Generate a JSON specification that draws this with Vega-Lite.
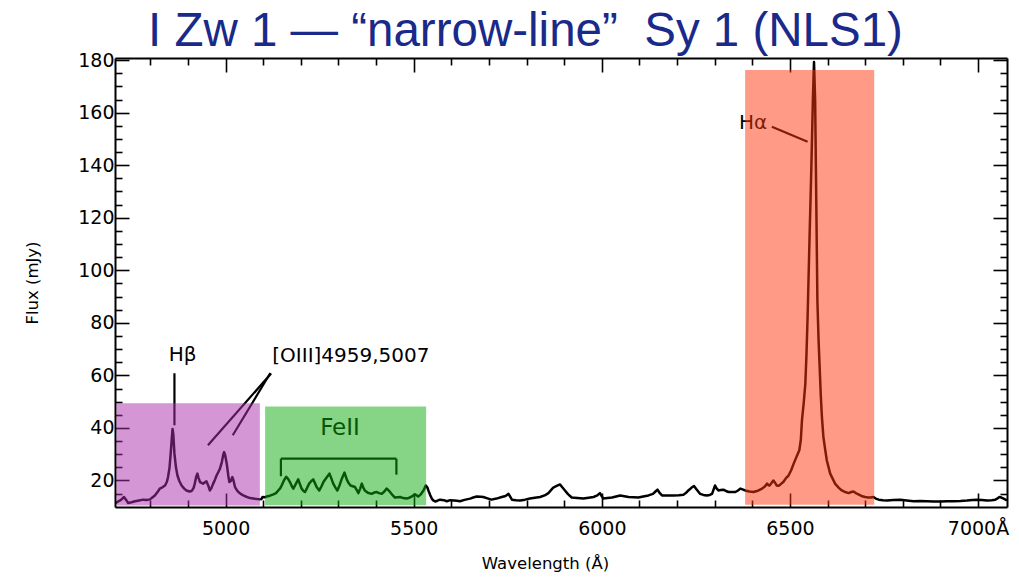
{
  "$schema": "https://vega.github.io/schema/vega-lite/v6.json",
  "autosize": {"type": "none"},
  "width": 892,
  "height": 449,
  "padding": {"left": 115, "top": 58, "right": 12, "bottom": 70},
  "background": "white",
  "title": {
    "text": "I Zw 1 — “narrow-line”\u00a0 Sy 1 (NLS1)",
    "anchor": "start",
    "frame": "group",
    "dx": 33,
    "offset": -42,
    "baseline": "alphabetic",
    "font": "Liberation Sans",
    "fontSize": 47.5,
    "fontWeight": "normal",
    "color": "#1a2a8a"
  },
  "config": {
    "view": {"stroke": null},
    "axis": {
      "grid": false,
      "domainColor": "black",
      "domainWidth": 2,
      "tickColor": "black",
      "tickWidth": 1.6,
      "labelFont": "DejaVu Sans",
      "labelFontSize": 19,
      "labelColor": "black",
      "titleFont": "DejaVu Sans",
      "titleFontSize": 16.5,
      "titleFontWeight": "normal",
      "titleColor": "black"
    }
  },
  "datasets": {
    "spectrum": [
      {"wl": 4706, "flux": 11.2}, {"wl": 4712, "flux": 11.8}, {"wl": 4722, "flux": 12.6}, {"wl": 4730, "flux": 13.7},
      {"wl": 4736, "flux": 12.5}, {"wl": 4741, "flux": 11.4}, {"wl": 4750, "flux": 11.7}, {"wl": 4759, "flux": 12.1},
      {"wl": 4770, "flux": 12.4}, {"wl": 4781, "flux": 12.7}, {"wl": 4790, "flux": 12.6}, {"wl": 4799, "flux": 12.8},
      {"wl": 4806, "flux": 13.6}, {"wl": 4812, "flux": 14.3}, {"wl": 4820, "flux": 15.8}, {"wl": 4825, "flux": 16.9},
      {"wl": 4832, "flux": 17.4}, {"wl": 4839, "flux": 18.1}, {"wl": 4844, "flux": 19.5}, {"wl": 4847, "flux": 21.3},
      {"wl": 4851, "flux": 25.0}, {"wl": 4854, "flux": 30.2}, {"wl": 4857, "flux": 36.0}, {"wl": 4859, "flux": 39.6},
      {"wl": 4861, "flux": 37.5}, {"wl": 4864, "flux": 30.2}, {"wl": 4868, "flux": 25.0}, {"wl": 4872, "flux": 21.9},
      {"wl": 4877, "flux": 19.8}, {"wl": 4883, "flux": 18.1}, {"wl": 4890, "flux": 16.9}, {"wl": 4896, "flux": 16.2},
      {"wl": 4904, "flux": 15.8}, {"wl": 4910, "flux": 16.0}, {"wl": 4915, "flux": 17.2}, {"wl": 4918, "flux": 18.8},
      {"wl": 4922, "flux": 21.5}, {"wl": 4925, "flux": 22.6}, {"wl": 4928, "flux": 21.0}, {"wl": 4932, "flux": 19.4},
      {"wl": 4940, "flux": 18.8}, {"wl": 4949, "flux": 19.7}, {"wl": 4954, "flux": 18.0}, {"wl": 4958, "flux": 16.2},
      {"wl": 4962, "flux": 17.0}, {"wl": 4967, "flux": 18.8}, {"wl": 4972, "flux": 20.4}, {"wl": 4976, "flux": 21.9},
      {"wl": 4981, "flux": 23.3}, {"wl": 4985, "flux": 24.5}, {"wl": 4990, "flux": 27.0}, {"wl": 4994, "flux": 30.0},
      {"wl": 4996, "flux": 30.8}, {"wl": 4999, "flux": 29.5}, {"wl": 5003, "flux": 26.4}, {"wl": 5007, "flux": 22.0},
      {"wl": 5010, "flux": 19.4}, {"wl": 5014, "flux": 19.8}, {"wl": 5018, "flux": 21.3}, {"wl": 5021, "flux": 20.0},
      {"wl": 5025, "flux": 17.5}, {"wl": 5030, "flux": 16.3}, {"wl": 5034, "flux": 15.6}, {"wl": 5040, "flux": 14.9},
      {"wl": 5047, "flux": 14.3}, {"wl": 5055, "flux": 13.8}, {"wl": 5065, "flux": 13.3}, {"wl": 5078, "flux": 13.0},
      {"wl": 5091, "flux": 12.8}, {"wl": 5095, "flux": 12.9}, {"wl": 5098, "flux": 13.7}, {"wl": 5104, "flux": 13.6},
      {"wl": 5109, "flux": 13.9}, {"wl": 5118, "flux": 14.2}, {"wl": 5127, "flux": 14.7}, {"wl": 5134, "flux": 15.2},
      {"wl": 5140, "flux": 16.2}, {"wl": 5145, "flux": 17.0}, {"wl": 5149, "flux": 18.1}, {"wl": 5155, "flux": 20.0},
      {"wl": 5161, "flux": 21.4}, {"wl": 5166, "flux": 20.6}, {"wl": 5171, "flux": 19.4}, {"wl": 5176, "flux": 17.8},
      {"wl": 5180, "flux": 16.9}, {"wl": 5186, "flux": 18.5}, {"wl": 5193, "flux": 20.4}, {"wl": 5198, "flux": 18.4},
      {"wl": 5202, "flux": 16.9}, {"wl": 5207, "flux": 16.0}, {"wl": 5211, "flux": 15.6}, {"wl": 5216, "flux": 17.0},
      {"wl": 5222, "flux": 18.8}, {"wl": 5228, "flux": 19.8}, {"wl": 5233, "flux": 20.4}, {"wl": 5238, "flux": 18.8},
      {"wl": 5242, "flux": 17.5}, {"wl": 5249, "flux": 16.2}, {"wl": 5255, "flux": 17.8}, {"wl": 5260, "flux": 19.4},
      {"wl": 5268, "flux": 21.0}, {"wl": 5276, "flux": 22.6}, {"wl": 5281, "flux": 20.8}, {"wl": 5286, "flux": 18.8},
      {"wl": 5292, "flux": 17.3}, {"wl": 5297, "flux": 16.2}, {"wl": 5303, "flux": 18.2}, {"wl": 5309, "flux": 20.7},
      {"wl": 5316, "flux": 23.0}, {"wl": 5322, "flux": 20.4}, {"wl": 5327, "flux": 19.0}, {"wl": 5332, "flux": 18.1},
      {"wl": 5338, "flux": 17.8}, {"wl": 5344, "flux": 17.5}, {"wl": 5349, "flux": 16.2}, {"wl": 5353, "flux": 15.2},
      {"wl": 5358, "flux": 17.0}, {"wl": 5362, "flux": 18.8}, {"wl": 5366, "flux": 17.3}, {"wl": 5370, "flux": 16.2},
      {"wl": 5378, "flux": 15.3}, {"wl": 5388, "flux": 14.9}, {"wl": 5395, "flux": 15.4}, {"wl": 5402, "flux": 15.6},
      {"wl": 5408, "flux": 15.2}, {"wl": 5415, "flux": 14.9}, {"wl": 5422, "flux": 15.8}, {"wl": 5428, "flux": 16.9},
      {"wl": 5433, "flux": 16.3}, {"wl": 5437, "flux": 15.6}, {"wl": 5444, "flux": 14.4}, {"wl": 5450, "flux": 13.5},
      {"wl": 5457, "flux": 13.6}, {"wl": 5464, "flux": 13.7}, {"wl": 5472, "flux": 13.3}, {"wl": 5481, "flux": 13.1},
      {"wl": 5488, "flux": 13.4}, {"wl": 5495, "flux": 13.9}, {"wl": 5503, "flux": 14.7}, {"wl": 5508, "flux": 14.3},
      {"wl": 5512, "flux": 13.9}, {"wl": 5518, "flux": 14.6}, {"wl": 5526, "flux": 16.2}, {"wl": 5532, "flux": 18.1},
      {"wl": 5536, "flux": 17.4}, {"wl": 5539, "flux": 16.2}, {"wl": 5544, "flux": 14.4}, {"wl": 5548, "flux": 13.1},
      {"wl": 5552, "flux": 12.4}, {"wl": 5557, "flux": 12.0}, {"wl": 5563, "flux": 12.3}, {"wl": 5570, "flux": 12.7},
      {"wl": 5580, "flux": 12.5}, {"wl": 5588, "flux": 12.1}, {"wl": 5597, "flux": 12.5}, {"wl": 5607, "flux": 12.4},
      {"wl": 5615, "flux": 12.3}, {"wl": 5623, "flux": 12.1}, {"wl": 5635, "flux": 12.6}, {"wl": 5650, "flux": 13.1},
      {"wl": 5660, "flux": 13.6}, {"wl": 5668, "flux": 13.9}, {"wl": 5678, "flux": 13.8}, {"wl": 5685, "flux": 13.7},
      {"wl": 5696, "flux": 13.2}, {"wl": 5707, "flux": 12.7}, {"wl": 5720, "flux": 13.1}, {"wl": 5734, "flux": 13.7},
      {"wl": 5744, "flux": 14.1}, {"wl": 5752, "flux": 14.9}, {"wl": 5756, "flux": 13.9}, {"wl": 5761, "flux": 12.7},
      {"wl": 5772, "flux": 12.5}, {"wl": 5783, "flux": 12.4}, {"wl": 5796, "flux": 12.7}, {"wl": 5809, "flux": 13.1},
      {"wl": 5822, "flux": 13.4}, {"wl": 5836, "flux": 13.7}, {"wl": 5848, "flux": 14.3}, {"wl": 5858, "flux": 15.2},
      {"wl": 5865, "flux": 16.3}, {"wl": 5871, "flux": 17.3}, {"wl": 5880, "flux": 17.9}, {"wl": 5889, "flux": 18.5},
      {"wl": 5895, "flux": 17.4}, {"wl": 5902, "flux": 16.2}, {"wl": 5910, "flux": 14.8}, {"wl": 5920, "flux": 13.5},
      {"wl": 5935, "flux": 13.3}, {"wl": 5951, "flux": 13.1}, {"wl": 5965, "flux": 13.4}, {"wl": 5978, "flux": 13.7},
      {"wl": 5988, "flux": 14.3}, {"wl": 5995, "flux": 15.2}, {"wl": 5999, "flux": 14.2}, {"wl": 6004, "flux": 13.1},
      {"wl": 6015, "flux": 13.3}, {"wl": 6027, "flux": 13.5}, {"wl": 6038, "flux": 13.9}, {"wl": 6049, "flux": 14.3},
      {"wl": 6060, "flux": 14.0}, {"wl": 6071, "flux": 13.7}, {"wl": 6085, "flux": 13.6}, {"wl": 6097, "flux": 13.5},
      {"wl": 6110, "flux": 13.9}, {"wl": 6124, "flux": 14.3}, {"wl": 6136, "flux": 14.9}, {"wl": 6144, "flux": 16.0},
      {"wl": 6148, "flux": 16.5}, {"wl": 6153, "flux": 15.4}, {"wl": 6160, "flux": 14.3}, {"wl": 6175, "flux": 14.3},
      {"wl": 6190, "flux": 14.3}, {"wl": 6205, "flux": 14.4}, {"wl": 6217, "flux": 14.6}, {"wl": 6224, "flux": 15.3},
      {"wl": 6230, "flux": 16.2}, {"wl": 6238, "flux": 17.2}, {"wl": 6245, "flux": 17.9}, {"wl": 6252, "flux": 16.6},
      {"wl": 6261, "flux": 14.9}, {"wl": 6270, "flux": 14.5}, {"wl": 6279, "flux": 14.3}, {"wl": 6287, "flux": 14.5},
      {"wl": 6293, "flux": 14.9}, {"wl": 6297, "flux": 16.5}, {"wl": 6301, "flux": 18.1}, {"wl": 6305, "flux": 17.0},
      {"wl": 6310, "flux": 16.2}, {"wl": 6316, "flux": 16.4}, {"wl": 6323, "flux": 16.5}, {"wl": 6330, "flux": 16.0},
      {"wl": 6337, "flux": 15.6}, {"wl": 6346, "flux": 15.6}, {"wl": 6355, "flux": 15.6}, {"wl": 6362, "flux": 16.2},
      {"wl": 6368, "flux": 16.9}, {"wl": 6374, "flux": 16.6}, {"wl": 6381, "flux": 16.2}, {"wl": 6392, "flux": 15.8},
      {"wl": 6403, "flux": 15.6}, {"wl": 6415, "flux": 16.1}, {"wl": 6426, "flux": 16.9}, {"wl": 6434, "flux": 17.8},
      {"wl": 6439, "flux": 18.8}, {"wl": 6443, "flux": 18.2}, {"wl": 6446, "flux": 18.1}, {"wl": 6451, "flux": 19.0},
      {"wl": 6456, "flux": 20.0}, {"wl": 6461, "flux": 19.0}, {"wl": 6465, "flux": 18.1}, {"wl": 6470, "flux": 18.0},
      {"wl": 6474, "flux": 18.4}, {"wl": 6483, "flux": 19.5}, {"wl": 6490, "flux": 21.0}, {"wl": 6496, "flux": 21.8},
      {"wl": 6503, "flux": 23.8}, {"wl": 6510, "flux": 26.4}, {"wl": 6516, "flux": 28.5}, {"wl": 6521, "flux": 30.2},
      {"wl": 6525, "flux": 31.5}, {"wl": 6529, "flux": 35.5}, {"wl": 6532, "flux": 42.9}, {"wl": 6537, "flux": 50.0},
      {"wl": 6541, "flux": 56.9}, {"wl": 6544, "flux": 68.0}, {"wl": 6547, "flux": 82.3}, {"wl": 6552, "flux": 111.5},
      {"wl": 6557, "flux": 139.4}, {"wl": 6561, "flux": 164.8}, {"wl": 6564, "flux": 179.3}, {"wl": 6567, "flux": 164.8},
      {"wl": 6570, "flux": 126.7}, {"wl": 6573, "flux": 88.6}, {"wl": 6576, "flux": 74.0}, {"wl": 6579, "flux": 63.2},
      {"wl": 6582, "flux": 52.5}, {"wl": 6585, "flux": 44.2}, {"wl": 6589, "flux": 36.5}, {"wl": 6594, "flux": 31.5},
      {"wl": 6598, "flux": 27.7}, {"wl": 6607, "flux": 22.6}, {"wl": 6620, "flux": 18.8}, {"wl": 6630, "flux": 17.2},
      {"wl": 6638, "flux": 16.2}, {"wl": 6647, "flux": 15.6}, {"wl": 6656, "flux": 15.2}, {"wl": 6663, "flux": 15.6},
      {"wl": 6669, "flux": 15.8}, {"wl": 6675, "flux": 15.2}, {"wl": 6682, "flux": 14.7}, {"wl": 6690, "flux": 14.1},
      {"wl": 6700, "flux": 13.7}, {"wl": 6708, "flux": 13.5}, {"wl": 6714, "flux": 13.5}, {"wl": 6722, "flux": 13.7},
      {"wl": 6728, "flux": 13.1}, {"wl": 6736, "flux": 12.7}, {"wl": 6747, "flux": 12.5}, {"wl": 6758, "flux": 12.4},
      {"wl": 6775, "flux": 12.6}, {"wl": 6793, "flux": 12.7}, {"wl": 6810, "flux": 12.4}, {"wl": 6829, "flux": 12.1},
      {"wl": 6846, "flux": 12.2}, {"wl": 6864, "flux": 12.1}, {"wl": 6882, "flux": 12.0}, {"wl": 6900, "flux": 12.0},
      {"wl": 6918, "flux": 12.1}, {"wl": 6935, "flux": 12.1}, {"wl": 6953, "flux": 12.2}, {"wl": 6971, "flux": 12.4},
      {"wl": 6985, "flux": 12.6}, {"wl": 6997, "flux": 12.7}, {"wl": 7010, "flux": 12.6}, {"wl": 7024, "flux": 12.4},
      {"wl": 7036, "flux": 12.5}, {"wl": 7046, "flux": 12.7}, {"wl": 7052, "flux": 13.2}, {"wl": 7057, "flux": 13.7},
      {"wl": 7062, "flux": 13.5}, {"wl": 7068, "flux": 13.1}, {"wl": 7077, "flux": 12.4}
    ],
    "pointers": [
      {"name": "Hβ", "x": 4864, "y": 60.8, "x2": 4864, "y2": 41.0},
      {"name": "[OIII]4959", "x": 5121, "y": 60.7, "x2": 4953, "y2": 33.4},
      {"name": "[OIII]5007", "x": 5119, "y": 60.9, "x2": 5019, "y2": 37.2},
      {"name": "FeII top", "x": 5147, "y": 28.3, "x2": 5454, "y2": 28.3},
      {"name": "FeII left", "x": 5147, "y": 28.3, "x2": 5147, "y2": 21.6},
      {"name": "FeII right", "x": 5454, "y": 28.3, "x2": 5454, "y2": 22.2},
      {"name": "Hα", "x": 6452, "y": 154.6, "x2": 6547, "y2": 148.9}
    ],
    "labels": [
      {"text": "Hβ", "x": 4886, "y": 67.7},
      {"text": "[OIII]4959,5007", "x": 5333, "y": 67.3},
      {"text": "Hα", "x": 6402, "y": 155.9}
    ],
    "bandLabels": [
      {"text": "FeII", "x": 5304, "y": 40.0}
    ],
    "bands": [
      {"band": "Hβ + [OIII]", "x1": 4710, "x2": 5091, "y1": 10.5, "y2": 49.4},
      {"band": "FeII", "x1": 5105, "x2": 5533, "y1": 10.6, "y2": 48.2},
      {"band": "Hα", "x1": 6381, "x2": 6724, "y1": 10.8, "y2": 176.2}
    ]
  },
  "layer": [
    {
      "data": {"name": "spectrum"},
      "mark": {"type": "line", "color": "black", "strokeWidth": 2.5, "strokeJoin": "round", "clip": true},
      "encoding": {
        "x": {
          "field": "wl", "type": "quantitative",
          "scale": {"domain": [4706, 7077], "nice": false, "zero": false},
          "axis": {
            "orient": "bottom", "values": [5000, 5500, 6000, 6500, 7000],
            "tickSize": -14, "labelPadding": 26,
            "labelExpr": "datum.value == 7000 ? '7000Å' : datum.value",
            "title": "Wavelength (Å)", "titleX": 430, "titlePadding": 17
          }
        },
        "y": {
          "field": "flux", "type": "quantitative",
          "scale": {"domain": [9.9, 180.8], "nice": false, "zero": false},
          "axis": {
            "orient": "left", "values": [20, 40, 60, 80, 100, 120, 140, 160, 180],
            "tickSize": -14, "labelPadding": 15,
            "title": "Flux (mJy)", "titlePadding": 37
          }
        }
      }
    },
    {
      "data": {"name": "pointers"},
      "mark": {"type": "rule", "color": "black", "strokeWidth": 2.2},
      "encoding": {
        "x": {
          "field": "x", "type": "quantitative",
          "axis": {
            "orient": "bottom",
            "values": [4800, 4900, 5100, 5200, 5300, 5400, 5600, 5700, 5800, 5900, 6100, 6200, 6300, 6400, 6600, 6700, 6800, 6900],
            "tickSize": -7, "labels": false, "domain": false, "title": null
          }
        },
        "x2": {"field": "x2"},
        "y": {
          "field": "y", "type": "quantitative",
          "axis": {
            "orient": "left",
            "values": [15, 25, 30, 35, 45, 50, 55, 65, 70, 75, 85, 90, 95, 105, 110, 115, 125, 130, 135, 145, 150, 155, 165, 170, 175],
            "tickSize": -7, "labels": false, "domain": false, "title": null
          }
        },
        "y2": {"field": "y2"}
      }
    },
    {
      "data": {"name": "labels"},
      "mark": {"type": "text", "color": "black", "font": "DejaVu Sans", "fontSize": 20, "align": "center", "baseline": "middle"},
      "encoding": {
        "x": {
          "field": "x", "type": "quantitative",
          "axis": {
            "orient": "top", "values": [5000, 5500, 6000, 6500, 7000],
            "tickSize": -14, "labels": false, "title": null
          }
        },
        "y": {
          "field": "y", "type": "quantitative",
          "axis": {
            "orient": "right", "values": [20, 40, 60, 80, 100, 120, 140, 160, 180],
            "tickSize": -14, "labels": false, "title": null
          }
        },
        "text": {"field": "text"}
      }
    },
    {
      "data": {"name": "bandLabels"},
      "mark": {"type": "text", "color": "black", "font": "DejaVu Sans", "fontSize": 23, "align": "center", "baseline": "middle"},
      "encoding": {
        "x": {"field": "x", "type": "quantitative", "axis": null},
        "y": {"field": "y", "type": "quantitative", "axis": null},
        "text": {"field": "text"}
      }
    },
    {
      "data": {"name": "bands"},
      "mark": {"type": "rect", "opacity": 0.5},
      "encoding": {
        "x": {
          "field": "x1", "type": "quantitative",
          "axis": {
            "orient": "top",
            "values": [4800, 4900, 5100, 5200, 5300, 5400, 5600, 5700, 5800, 5900, 6100, 6200, 6300, 6400, 6600, 6700, 6800, 6900],
            "tickSize": -7, "labels": false, "domain": false, "title": null
          }
        },
        "x2": {"field": "x2"},
        "y": {
          "field": "y1", "type": "quantitative",
          "axis": {
            "orient": "right",
            "values": [15, 25, 30, 35, 45, 50, 55, 65, 70, 75, 85, 90, 95, 105, 110, 115, 125, 130, 135, 145, 150, 155, 165, 170, 175],
            "tickSize": -7, "labels": false, "domain": false, "title": null
          }
        },
        "y2": {"field": "y2"},
        "color": {
          "field": "band", "type": "nominal", "legend": null,
          "scale": {"domain": ["Hβ + [OIII]", "FeII", "Hα"], "range": ["#a92da9", "#0dab0d", "#fd350d"]}
        }
      }
    }
  ],
  "resolve": {"axis": {"x": "independent", "y": "independent"}}
}
